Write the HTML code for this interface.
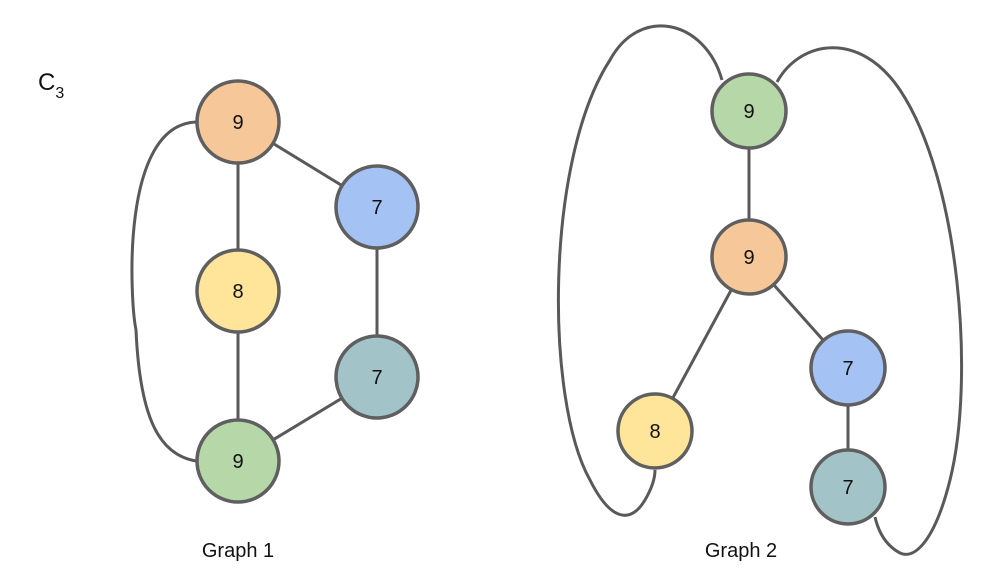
<!DOCTYPE html>
<html><head><style>
html,body{margin:0;padding:0;background:#fff;}
svg{display:block;}
text{font-family:"Liberation Sans",Arial,sans-serif;fill:#111;}
</style></head><body>
<svg width="996" height="586" viewBox="0 0 996 586">
<g fill="none" stroke="#595959" stroke-width="3">
<path d="M196,122 C120,125 130,300 136,330 C140,420 160,455 196,461"/>
<line x1="238" y1="122" x2="238" y2="461"/>
<line x1="238" y1="122" x2="377" y2="207"/>
<line x1="377" y1="207" x2="377" y2="377"/>
<line x1="377" y1="377" x2="238" y2="461"/>
<path d="M722,80 C705,20 640,5 610,60 C545,160 545,400 590,480 C610,520 630,525 645,500 C652,488 655,478 655,470"/>
<path d="M777,82 C800,40 860,30 900,90 C960,180 975,380 950,480 C935,540 915,560 900,553 C885,545 878,530 875,517"/>
<line x1="749" y1="111" x2="749" y2="257"/>
<line x1="749" y1="257" x2="655" y2="431"/>
<line x1="749" y1="257" x2="848" y2="368"/>
<line x1="848" y1="368" x2="848" y2="487"/>
</g>
<g stroke="#5f5f5f" stroke-width="3.5">
<circle cx="238" cy="122" r="41" fill="#f6c899"/>
<circle cx="377" cy="207" r="41" fill="#a4c2f4"/>
<circle cx="238" cy="291" r="41" fill="#fee599"/>
<circle cx="377" cy="377" r="41" fill="#a2c4c9"/>
<circle cx="238" cy="461" r="41" fill="#b6d7a8"/>
<circle cx="749" cy="111" r="37" fill="#b6d7a8"/>
<circle cx="749" cy="257" r="37" fill="#f6c899"/>
<circle cx="848" cy="368" r="37" fill="#a4c2f4"/>
<circle cx="655" cy="431" r="37" fill="#fee599"/>
<circle cx="848" cy="487" r="37" fill="#a2c4c9"/>
</g>
<g font-size="20" text-anchor="middle">
<text x="238" y="129">9</text>
<text x="377" y="214">7</text>
<text x="238" y="298">8</text>
<text x="377" y="384">7</text>
<text x="238" y="468">9</text>
<text x="749" y="118">9</text>
<text x="749" y="264">9</text>
<text x="848" y="375">7</text>
<text x="655" y="438">8</text>
<text x="848" y="494">7</text>
<text x="238" y="557">Graph 1</text>
<text x="741" y="557">Graph 2</text>
</g>
<text x="38" y="90" font-size="24">C<tspan font-size="16" dy="8">3</tspan></text>
</svg>
</body></html>
